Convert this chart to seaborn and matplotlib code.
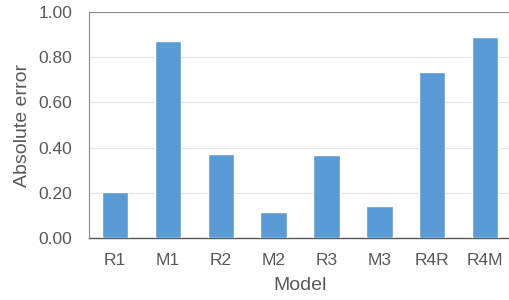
import numpy as np
import pandas as pd
import matplotlib.pyplot as plt
import seaborn as sns

models = ["R1", "M1", "R2", "M2", "R3", "M3", "R4R", "R4M"]
errors = [0.205, 0.873, 0.370, 0.115, 0.367, 0.142, 0.733, 0.891]

df = pd.DataFrame({"Model": models, "Absolute error": errors})

sns.set_style("white")
plt.rcParams['font.family'] = ['Liberation Sans', 'DejaVu Sans']

fig = plt.figure(figsize=(5.1, 3.0), dpi=100)
ax = fig.add_axes([0.174, 0.207, 0.829, 0.753])

sns.barplot(data=df, x="Model", y="Absolute error", color="#5B9BD5",
            width=0.5, saturation=1, ax=ax, zorder=3)

ax.set_ylim(0, 1.0)
ax.set_yticks(np.arange(0, 1.01, 0.2))
ax.set_yticklabels([f"{v:.2f}" for v in np.arange(0, 1.01, 0.2)])
ax.yaxis.grid(True, color="#e4e4e4", linewidth=0.8, zorder=0)
ax.set_axisbelow(True)

for s in ["left", "top", "right"]:
    ax.spines[s].set_color("#8c8c8c")
    ax.spines[s].set_linewidth(0.8)
ax.spines["bottom"].set_color("#595959")
ax.spines["bottom"].set_linewidth(1.0)

ax.tick_params(axis="both", colors="#595959", labelsize=12.5, length=0)
ax.tick_params(axis="x", pad=11)
ax.tick_params(axis="y", pad=12)
ax.set_xlabel("Model", fontsize=14, color="#595959", labelpad=6)
ax.set_ylabel("Absolute error", fontsize=14, color="#595959", labelpad=5)

fig.savefig("out.png", dpi=100)
